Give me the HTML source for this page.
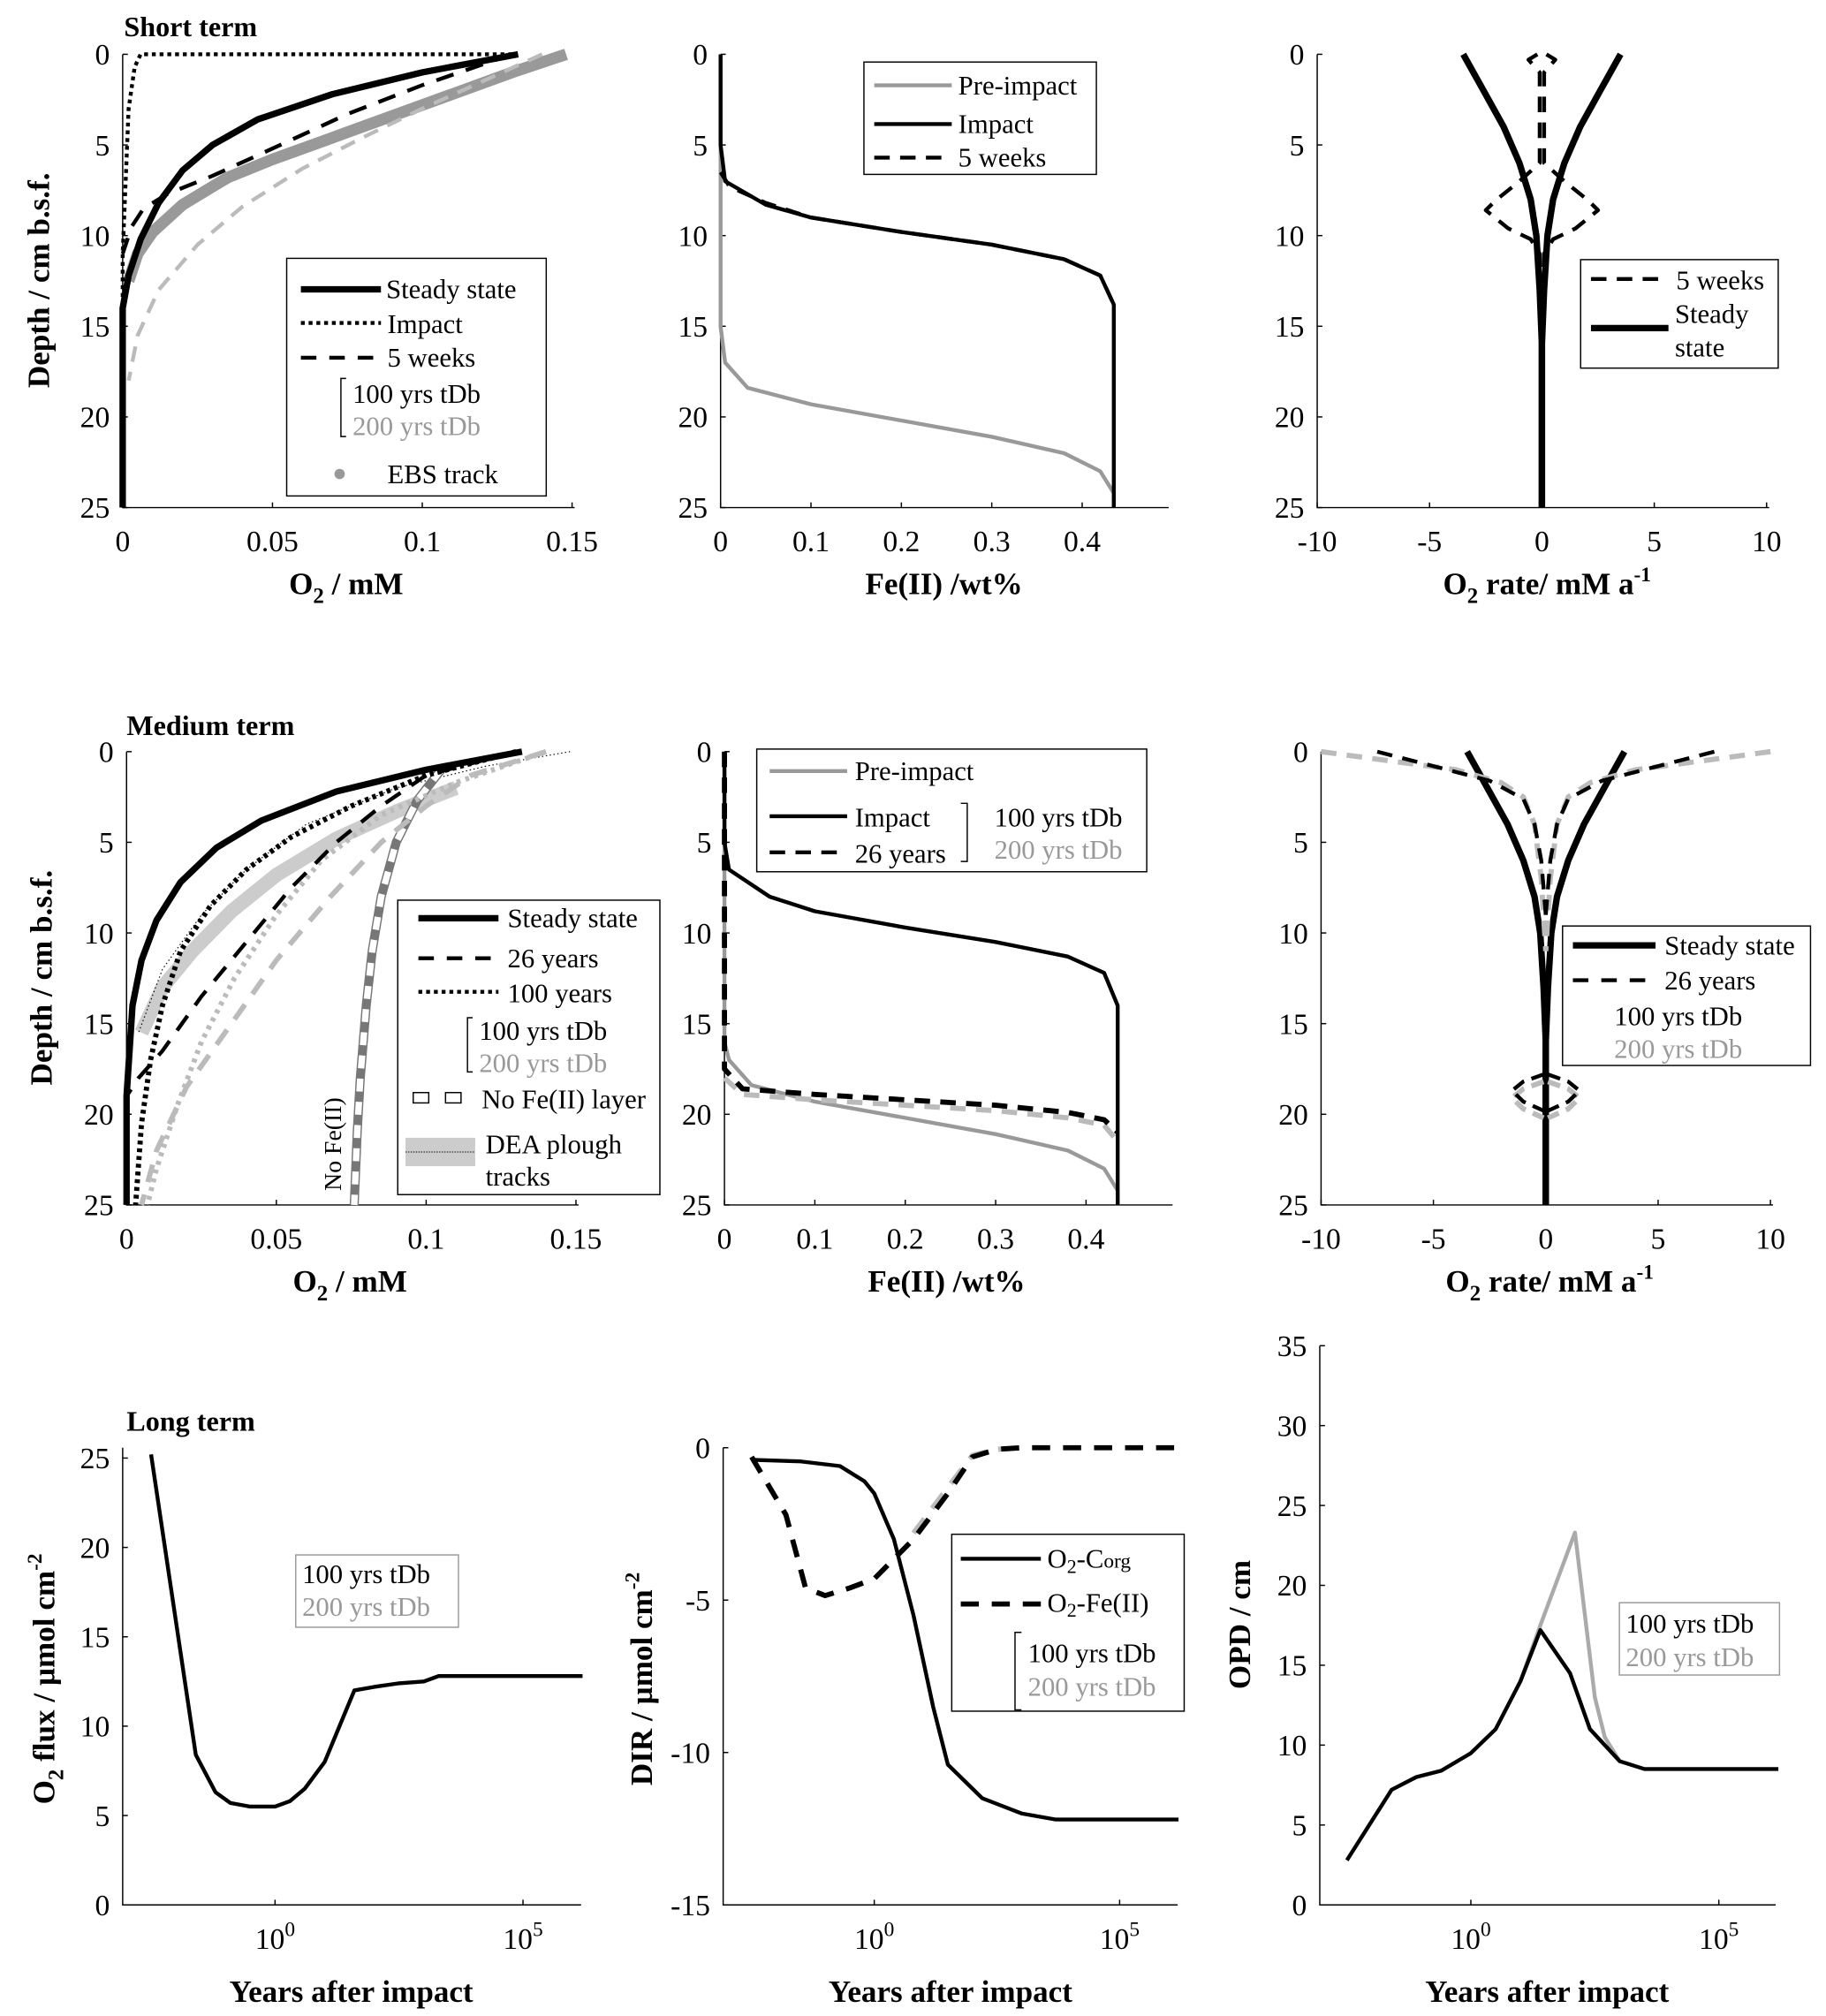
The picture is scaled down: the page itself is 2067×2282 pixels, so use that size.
<!DOCTYPE html>
<html><head><meta charset="utf-8"><style>
html,body{margin:0;padding:0;background:#fff;}
svg{display:block;font-family:"Liberation Serif",serif;}
</style></head><body>
<svg id="chart" width="2067" height="2282" viewBox="0 0 1414 1561" xmlns="http://www.w3.org/2000/svg">
<rect width="1414" height="1561" fill="#fff"/>
<text x="96" y="28" font-size="22" font-weight="bold">Short term</text>
<text x="98" y="569" font-size="22" font-weight="bold">Medium term</text>
<text x="98" y="1108" font-size="22" font-weight="bold">Long term</text>
<g id="plots"></g>
<g id="legends" font-size="21">
 <g>
  <rect x="222" y="200" width="201" height="184" fill="#fff" stroke="#000" stroke-width="1"/>
  <line x1="233" y1="224" x2="295" y2="224" stroke="#000" stroke-width="5"/><text x="299" y="231">Steady state</text>
  <line x1="233" y1="250" x2="295" y2="250" stroke="#000" stroke-width="3" stroke-dasharray="3,3"/><text x="300" y="258">Impact</text>
  <line x1="233" y1="277" x2="295" y2="277" stroke="#000" stroke-width="3" stroke-dasharray="12,10"/><text x="300" y="284">5 weeks</text>
  <path d="M268,293 h-4 v45 h4" fill="none" stroke="#000"/><text x="273" y="312">100 yrs tDb</text><text x="273" y="337" fill="#999">200 yrs tDb</text>
  <circle cx="263" cy="367" r="4" fill="#999"/><text x="300" y="374">EBS track</text>
 </g>
 <g>
  <rect x="669" y="48" width="180" height="87" fill="#fff" stroke="#000"/>
  <line x1="677" y1="66" x2="737" y2="66" stroke="#999" stroke-width="3"/><text x="742" y="73">Pre-impact</text>
  <line x1="677" y1="96" x2="737" y2="96" stroke="#000" stroke-width="3"/><text x="742" y="103">Impact</text>
  <line x1="677" y1="122" x2="737" y2="122" stroke="#000" stroke-width="3" stroke-dasharray="12,8"/><text x="742" y="129">5 weeks</text>
 </g>
 <g>
  <rect x="1224" y="201" width="153" height="84" fill="#fff" stroke="#000"/>
  <line x1="1232" y1="216" x2="1292" y2="216" stroke="#000" stroke-width="3" stroke-dasharray="12,8"/><text x="1298" y="224">5 weeks</text>
  <line x1="1232" y1="254" x2="1292" y2="254" stroke="#000" stroke-width="5"/><text x="1297" y="250">Steady</text><text x="1297" y="276">state</text>
 </g>
 <g>
  <rect x="308" y="697" width="203" height="228" fill="#fff" stroke="#000"/>
  <line x1="324" y1="711" x2="386" y2="711" stroke="#000" stroke-width="5"/><text x="393" y="718">Steady state</text>
  <line x1="324" y1="742" x2="386" y2="742" stroke="#000" stroke-width="3" stroke-dasharray="12,10"/><text x="393" y="749">26 years</text>
  <line x1="324" y1="768" x2="386" y2="768" stroke="#000" stroke-width="3" stroke-dasharray="3,3"/><text x="393" y="776">100 years</text>
  <path d="M366,788 h-4 v42 h4" fill="none" stroke="#000"/><text x="371" y="805">100 yrs tDb</text><text x="371" y="830" fill="#999">200 yrs tDb</text>
  <rect x="320" y="846" width="12" height="8" fill="#fff" stroke="#000"/><rect x="345" y="846" width="12" height="8" fill="#fff" stroke="#000"/><text x="373" y="858">No Fe(II) layer</text>
  <rect x="314" y="881" width="54" height="22" fill="#ccc"/><line x1="314" y1="892" x2="368" y2="892" stroke="#000" stroke-width="0.7" stroke-dasharray="1,1"/><text x="376" y="893">DEA plough</text><text x="376" y="918">tracks</text>
 </g>
 <text transform="translate(264,922) rotate(-90)" font-size="19">No Fe(II)</text>
 <g>
  <rect x="586" y="580" width="302" height="95" fill="#fff" stroke="#000"/>
  <line x1="596" y1="597" x2="656" y2="597" stroke="#999" stroke-width="3"/><text x="662" y="604">Pre-impact</text>
  <line x1="596" y1="632" x2="656" y2="632" stroke="#000" stroke-width="3"/><text x="662" y="640">Impact</text>
  <line x1="596" y1="660" x2="656" y2="660" stroke="#000" stroke-width="3" stroke-dasharray="12,8"/><text x="662" y="668">26 years</text>
  <path d="M744,622 h5 v45 h-5" fill="none" stroke="#000"/><text x="770" y="640">100 yrs tDb</text><text x="770" y="665" fill="#999">200 yrs tDb</text>
 </g>
 <g>
  <rect x="1210" y="717" width="192" height="108" fill="#fff" stroke="#000"/>
  <line x1="1218" y1="732" x2="1282" y2="732" stroke="#000" stroke-width="5"/><text x="1289" y="739">Steady state</text>
  <line x1="1218" y1="759" x2="1282" y2="759" stroke="#000" stroke-width="3" stroke-dasharray="12,10"/><text x="1289" y="766">26 years</text>
  <text x="1250" y="794">100 yrs tDb</text><text x="1250" y="819" fill="#999">200 yrs tDb</text>
 </g>
 <g>
  <rect x="229" y="1204" width="126" height="56" fill="#fff" stroke="#999"/>
  <text x="234" y="1226">100 yrs tDb</text><text x="234" y="1251" fill="#999">200 yrs tDb</text>
 </g>
 <g>
  <rect x="737" y="1188" width="180" height="137" fill="#fff" stroke="#000"/>
  <line x1="744" y1="1207" x2="806" y2="1207" stroke="#000" stroke-width="3"/><text x="811" y="1214">O<tspan font-size="15" dy="4">2</tspan><tspan dy="-4">-C</tspan><tspan font-size="16">org</tspan></text>
  <line x1="744" y1="1242" x2="806" y2="1242" stroke="#000" stroke-width="4" stroke-dasharray="14,10"/><text x="811" y="1248">O<tspan font-size="15" dy="4">2</tspan><tspan dy="-4">-Fe(II)</tspan></text>
  <path d="M791,1264 h-5 v60 h5" fill="none" stroke="#000"/><text x="796" y="1287">100 yrs tDb</text><text x="796" y="1313" fill="#999">200 yrs tDb</text>
 </g>
 <g>
  <rect x="1254" y="1241" width="124" height="56" fill="#fff" stroke="#999"/>
  <text x="1259" y="1264">100 yrs tDb</text><text x="1259" y="1290" fill="#999">200 yrs tDb</text>
 </g>
</g>
</svg>
<script>
// ---------- data (value, depth) / (log10 years, value) ----------
const yTicksDepth=[0,5,10,15,20,25];
const xTicksO2=[0,0.05,0.1,0.15];
const xTicksFe=[0,0.1,0.2,0.3,0.4];
const xTicksRate=[-10,-5,0,5,10];
const xTicksLog=[0,5];
const yTicksFlux=[0,5,10,15,20,25];
const yTicksDIR=[0,-5,-10,-15];
const yTicksOPD=[0,5,10,15,20,25,30,35];

const aSteady=[[0.132,0],[0.1,1],[0.07,2.2],[0.045,3.6],[0.03,5],[0.02,6.4],[0.012,8.2],[0.006,10.2],[0.002,12.2],[0,14],[0,25]];
const aImpact=[[0.13,0],[0.006,0],[0.004,0.7],[0.002,3],[0.001,7],[0,11],[0,14]];
const aWeeks=[[0.13,0],[0.1,1.7],[0.075,3.3],[0.05,5.2],[0.03,6.7],[0.015,7.7],[0.007,8.5],[0.003,9.5],[0,11]];
const aGrayDash=[[0.14,0],[0.12,1.5],[0.1,3],[0.08,4.6],[0.06,6.3],[0.04,8.4],[0.025,10.5],[0.012,13],[0.005,15.5],[0.002,18]];
const aEBS=[[0.148,0],[0.13,1],[0.11,2.2],[0.09,3.4],[0.07,4.6],[0.05,5.8],[0.035,6.8],[0.02,8.3],[0.01,9.8],[0.005,11],[0.002,12.5]];

const bPre=[[0,0],[0,15],[0.005,17],[0.03,18.4],[0.1,19.3],[0.2,20.2],[0.3,21.1],[0.38,22],[0.42,23],[0.435,24.2],[0.435,25]];
const bImpact=[[0,0],[0,5],[0.005,7],[0.05,8.3],[0.1,9],[0.2,9.8],[0.3,10.5],[0.38,11.3],[0.42,12.2],[0.435,13.8],[0.435,25]];
const bWeeks=[[0,6.5],[0.01,7.3],[0.05,8.2],[0.1,9],[0.2,9.8],[0.3,10.5],[0.38,11.3],[0.42,12.2],[0.435,13.8]];

const cSteady=[[3.5,0],[2.6,2],[1.7,4],[1,6],[0.5,8],[0.25,10],[0.1,13],[0,16],[0,25]];
const cWeeks=[[0.2,0],[0.6,0.3],[0.1,1],[0.1,6],[1,7],[2,8],[2.5,8.6],[1.5,9.6],[0.5,10.2],[0.1,11],[0,17]];

const dSteady=[[0.132,0],[0.1,1],[0.07,2.2],[0.045,3.8],[0.03,5.3],[0.018,7.2],[0.01,9.3],[0.005,11.5],[0.002,14],[0,19],[0,25]];
const dYears26=[[0.13,0],[0.1,1.3],[0.085,3],[0.07,5],[0.055,7.5],[0.04,10.5],[0.025,13.5],[0.012,16.5],[0.004,18],[0,19]];
const dYears100=[[0.13,0],[0.1,1.3],[0.075,3],[0.055,4.7],[0.04,6.5],[0.028,8.5],[0.018,11],[0.012,14],[0.008,17],[0.005,20.5],[0.003,25]];
const dGrayDash=[[0.14,0],[0.115,1.3],[0.1,3],[0.085,5],[0.068,8],[0.05,11.5],[0.035,15],[0.02,18.5],[0.01,22],[0.005,25]];
const dGrayDot=[[0.14,0],[0.11,1.7],[0.085,3.5],[0.065,6],[0.05,9],[0.036,12.5],[0.025,16],[0.017,19.5],[0.01,23],[0.007,25]];
const dPlough=[[0.11,2],[0.09,3.3],[0.07,4.8],[0.05,6.8],[0.035,8.8],[0.022,11],[0.012,13],[0.005,15.5]];
const dNoFe=[[0.105,1],[0.097,2.7],[0.09,5],[0.085,8],[0.082,11],[0.08,14],[0.078,18],[0.077,21],[0.076,25]];
const dThin=[[0.148,0],[0.12,0.8],[0.09,2],[0.06,4],[0.04,6.5],[0.025,9],[0.012,12],[0.004,15.5]];

const ePre=[[0,0],[0,16],[0.005,17],[0.03,18.4],[0.1,19.3],[0.2,20.2],[0.3,21.1],[0.38,22],[0.42,23],[0.435,24.2],[0.435,25]];
const eImpact=[[0,0],[0,5],[0.005,6.5],[0.05,8],[0.1,8.8],[0.2,9.7],[0.3,10.5],[0.38,11.3],[0.42,12.2],[0.435,14],[0.435,25]];
const eYears26=[[0,0],[0,17.5],[0.02,18.6],[0.1,18.9],[0.2,19.2],[0.3,19.5],[0.38,19.9],[0.42,20.3],[0.435,21]];
const eGray26=[[0,18],[0.02,18.9],[0.1,19.2],[0.2,19.5],[0.3,19.8],[0.38,20.2],[0.42,20.6],[0.435,21.5]];

const fSteady=[[3.5,0],[2.6,2],[1.7,4],[1,6],[0.5,8],[0.25,10],[0.1,13],[0,16],[0,25]];
const fYears26=[[7.5,0],[5,0.8],[2.5,1.6],[1,2.6],[0.5,4],[0.2,6],[0,9]];
const fGray26=[[10,0],[7,0.5],[4,1],[2,1.7],[1,2.5],[0.5,4],[0.2,7],[0,11]];
const fLens=[[0.1,18.2],[1,18.6],[1.5,19.1],[1,19.7],[0.1,20.2]];

const gFlux=[[-2.5,25.2],[-1.6,8.4],[-1.2,6.3],[-0.9,5.7],[-0.5,5.5],[0,5.5],[0.3,5.8],[0.6,6.5],[1,8],[1.6,12],[2,12.2],[2.5,12.4],[3,12.5],[3.3,12.8],[4,12.8],[6.2,12.8]];
const hCorg=[[-2.5,-0.4],[-1.5,-0.45],[-0.7,-0.6],[-0.2,-1.1],[0,-1.5],[0.4,-3],[0.8,-5.5],[1.2,-8.5],[1.5,-10.4],[2.2,-11.5],[3,-12],[3.7,-12.2],[6.2,-12.2]];
const hFe=[[-2.5,-0.3],[-1.8,-2.2],[-1.4,-4.6],[-1,-4.85],[-0.5,-4.6],[0,-4.3],[0.8,-3],[1.5,-1.5],[2,-0.3],[2.5,-0.05],[3,0],[6.2,0]];
const hFeGray=[[0.8,-2.8],[1.5,-1.3],[2,-0.25],[2.5,-0.05],[3,0]];
const iOPD=[[-2.5,2.8],[-1.6,7.2],[-1.1,8],[-0.6,8.4],[0,9.5],[0.5,11],[1,14],[1.4,17.2],[2,14.5],[2.4,11],[2.7,10],[3,9],[3.5,8.5],[6.2,8.5]];
const iOPDGray=[[1,14],[1.4,17.5],[2.1,23.3],[2.5,13],[2.7,10.5],[3,9]];

// ---------- helpers ----------
const NS='http://www.w3.org/2000/svg';
const root=document.getElementById('plots');
function mk(tag,attrs,parent){const e=document.createElementNS(NS,tag);for(const k in attrs)e.setAttribute(k,attrs[k]);(parent||root).appendChild(e);return e;}
function lin(d0,d1,r0,r1){return v=>r0+(v-d0)*(r1-r0)/(d1-d0);}

function panel(p){
  const g=mk('g',{});
  
  
  const ax=mk('path',{d:`M${p.ax0},${p.ay0} V${p.ay1} H${p.ax1}`,fill:'none',stroke:'#000','stroke-width':1},g);
  
  
  p.xt.forEach(v=>{
    const x=p.sx(v);
    mk('line',{x1:x,y1:p.ay1,x2:x,y2:p.ay1-4,stroke:'#000'},g);
    const t=mk('text',{x:x,y:p.ay1+34,'font-size':23,'text-anchor':'middle'},g);
    if(p.log){t.textContent='10';const s=mk('tspan',{dy:-10,'font-size':16},t);s.textContent=String(v);}
    else t.textContent=String(v);
    
    
  });
  p.yt.forEach(v=>{
    const y=p.sy(v);
    mk('line',{x1:p.ax0,y1:y,x2:p.ax0+4,y2:y,stroke:'#000'},g);
    const t=mk('text',{x:p.ax0-10,y:y+8,'font-size':23,'text-anchor':'end'},g);
    t.textContent=String(v);
    
    
  });
  return g;
}
function series(p,data,style,name){
  const d=data.map((pt,i)=>(i?'L':'M')+p.sx(pt[0]).toFixed(1)+','+p.sy(pt[1]).toFixed(1)).join(' ');
  const e=mk('path',Object.assign({d:d,fill:'none','stroke-linejoin':'round'},style));
  
  
  return e;
}
function sym(p,data,style,name){
  series(p,data,style,name+'-right');
  series(p,data.map(q=>[-q[0],q[1]]),style,name+'-left');
}
function label(x,y,txt,rot,name,sub,rest,sup){
  const t=mk('text',{x:0,y:0,'font-size':24,'font-weight':'bold','text-anchor':'middle',transform:`translate(${x},${y})`+(rot?' rotate(-90)':'')});
  t.textContent=txt;
  if(sub){const s=mk('tspan',{'font-size':17,dy:7},t);s.textContent=sub;const r=mk('tspan',{dy:-7},t);r.textContent=rest;}
  if(sup){const s=mk('tspan',{'font-size':16,dy:-10},t);s.textContent=sup;}
  
  
}
const K='#000',G='#999',LG='#bbb';
const S=(c,w,da)=>da?{stroke:c,'stroke-width':w,'stroke-dasharray':da}:{stroke:c,'stroke-width':w};

// ---------- Panel A ----------
let A={name:'panel-short-o2',ax0:95,ax1:445,ay0:42,ay1:393,xt:xTicksO2,yt:yTicksDepth,sx:lin(0,0.15,95,443),sy:lin(0,25,42,393)};
panel(A);
series(A,aEBS,S(G,9),'ebs-track');
series(A,aGrayDash,S(LG,3,'12,8'),'series-5weeks-200yrs');
series(A,aWeeks,S(K,3,'14,10'),'series-5weeks');
series(A,aImpact,S(K,3,'3,3'),'series-impact');
series(A,aSteady,S(K,5),'series-steady-state');
label(38,217,'Depth / cm b.s.f.',true,'y-axis-title-a');
label(268,460,'O',false,'x-axis-title-a','2',' / mM');

// ---------- Panel B ----------
let B={name:'panel-short-fe',ax0:558,ax1:905,ay0:42,ay1:393,xt:xTicksFe,yt:yTicksDepth,sx:lin(0,0.4,558,838),sy:lin(0,25,42,393)};
panel(B);
series(B,bPre,S(G,3),'series-pre-impact');
series(B,bImpact,S(K,3),'series-impact');
series(B,bWeeks,S(K,3,'12,8'),'series-5weeks');
label(731,460,'Fe(II) /wt%',false,'x-axis-title-b');

// ---------- Panel C ----------
let C={name:'panel-short-rate',ax0:1020,ax1:1370,ay0:42,ay1:393,xt:xTicksRate,yt:yTicksDepth,sx:lin(-10,10,1020,1368),sy:lin(0,25,42,393)};
panel(C);
sym(C,cSteady,S(K,5),'series-steady-state');
sym(C,cWeeks,S(K,3,'12,8'),'series-5weeks');
label(1198,460,'O',false,'x-axis-title-c','2',' rate/ mM a','-1');

// ---------- Panel D ----------
let D={name:'panel-medium-o2',ax0:98,ax1:448,ay0:582,ay1:933,xt:xTicksO2,yt:yTicksDepth,sx:lin(0,0.15,98,446),sy:lin(0,25,582,933)};
panel(D);
series(D,dPlough,S('#ccc',11),'dea-plough-tracks');
series(D,dThin,S(K,0.8,'1,2'),'series-plough-model');
series(D,dNoFe,S('#777',7),'series-no-fe-outer');
series(D,dNoFe,S('#fff',5,'10,8'),'series-no-fe-layer');
series(D,dGrayDot,S(LG,4,'3,4'),'series-100years-200yrs');
series(D,dGrayDash,S(LG,4,'14,10'),'series-26years-200yrs');
series(D,dYears100,S(K,4,'3,3'),'series-100years');
series(D,dYears26,S(K,3,'14,10'),'series-26years');
series(D,dSteady,S(K,5),'series-steady-state');
label(40,757,'Depth / cm b.s.f.',true,'y-axis-title-d');
label(271,1000,'O',false,'x-axis-title-d','2',' / mM');

// ---------- Panel E ----------
let E={name:'panel-medium-fe',ax0:561,ax1:908,ay0:582,ay1:933,xt:xTicksFe,yt:yTicksDepth,sx:lin(0,0.4,561,841),sy:lin(0,25,582,933)};
panel(E);
series(E,ePre,S(G,3),'series-pre-impact');
series(E,eImpact,S(K,3),'series-impact');
series(E,eGray26,S(LG,4,'12,8'),'series-26years-200yrs');
series(E,eYears26,S(K,4,'12,8'),'series-26years');
label(733,1000,'Fe(II) /wt%',false,'x-axis-title-e');

// ---------- Panel F ----------
let F={name:'panel-medium-rate',ax0:1023,ax1:1373,ay0:582,ay1:933,xt:xTicksRate,yt:yTicksDepth,sx:lin(-10,10,1023,1371),sy:lin(0,25,582,933)};
panel(F);
sym(F,fSteady,S(K,5),'series-steady-state');
sym(F,fGray26,S(LG,4,'12,8'),'series-26years-200yrs');
sym(F,fYears26,S(K,3,'12,8'),'series-26years');
sym(F,fLens,S(LG,4,'10,6'),'series-lens-200yrs');
sym(F,fLens.map(p=>[p[0],p[1]-0.4]),S(K,3,'10,6'),'series-lens');
label(1200,1000,'O',false,'x-axis-title-f','2',' rate/ mM a','-1');

// ---------- Panel G ----------
let Gp={name:'panel-long-flux',ax0:95,ax1:450,ay0:1121,ay1:1475,xt:xTicksLog,yt:yTicksFlux,log:true,sx:lin(0,5,213,405),sy:lin(0,25,1475,1129)};
panel(Gp);
series(Gp,gFlux,S(K,3),'series-o2-flux');
label(42,1300,'O',true,'y-axis-title-g','2',' flux / µmol cm','-2');
label(272,1550,'Years after impact',false,'x-axis-title-g');

// ---------- Panel H ----------
let H={name:'panel-long-dir',ax0:560,ax1:912,ay0:1121,ay1:1475,xt:xTicksLog,yt:yTicksDIR,log:true,sx:lin(0,5,677,867),sy:lin(0,-15,1121,1475)};
panel(H);
series(H,hFeGray,S(LG,4,'14,10'),'series-o2-fe-200yrs');
series(H,hFe,S(K,4,'14,10'),'series-o2-fe');
series(H,hCorg,S(K,3),'series-o2-corg');
label(505,1300,'DIR / µmol cm',true,'y-axis-title-h',null,null,'-2');
label(736,1550,'Years after impact',false,'x-axis-title-h');

// ---------- Panel I ----------
let I={name:'panel-long-opd',ax0:1022,ax1:1375,ay0:1042,ay1:1475,xt:xTicksLog,yt:yTicksOPD,log:true,sx:lin(0,5,1139,1331),sy:lin(0,35,1475,1042)};
panel(I);
series(I,iOPDGray,S('#aaa',3),'series-opd-200yrs');
series(I,iOPD,S(K,3),'series-opd');
label(968,1258,'OPD / cm',true,'y-axis-title-i');
label(1198,1550,'Years after impact',false,'x-axis-title-i');
</script>
</body></html>
